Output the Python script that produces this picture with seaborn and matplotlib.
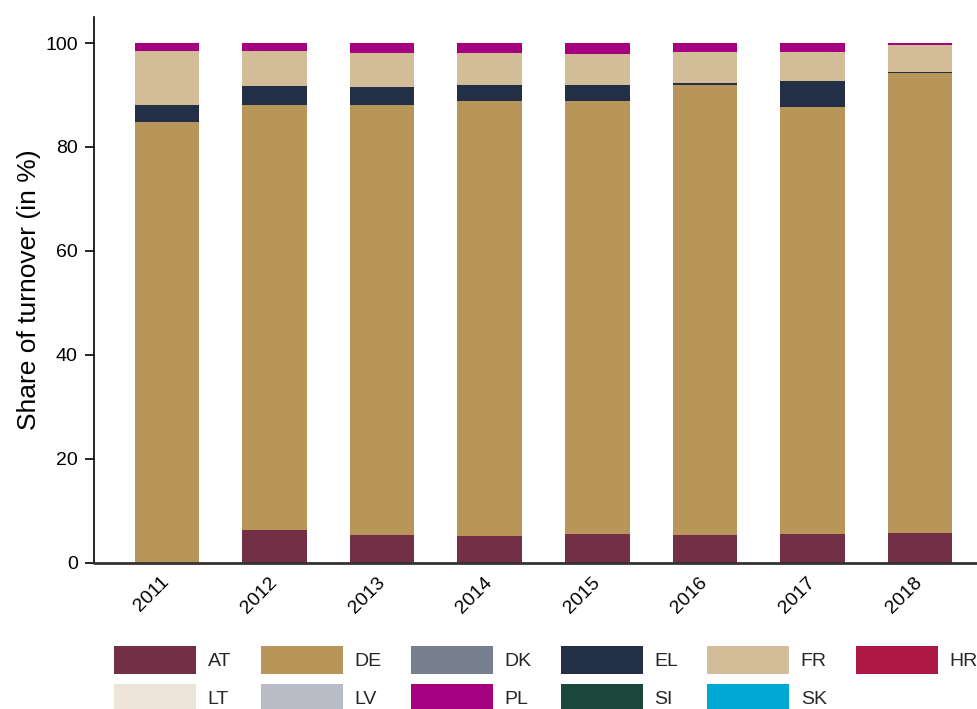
import numpy as np
import pandas as pd
import matplotlib
matplotlib.use("Agg")
import matplotlib.pyplot as plt
from matplotlib.patches import Patch
import seaborn as sns

# Datos (participacion en %)
years = ['2011', '2012', '2013', '2014', '2015', '2016', '2017', '2018']
countries = ['AT', 'DE', 'DK', 'EL', 'FR', 'HR', 'LT', 'LV', 'PL', 'SI', 'SK']

at = [0.0, 6.3, 5.4, 5.1, 5.5, 5.3, 5.6, 5.7]
de = [84.9, 81.7, 82.7, 83.7, 83.3, 86.6, 82.0, 88.5]
dk = [0, 0, 0, 0, 0, 0, 0, 0]
el = [3.1, 3.7, 3.4, 3.1, 3.1, 0.4, 5.1, 0.2]
fr = [10.5, 6.7, 6.6, 6.2, 6.0, 5.9, 5.6, 5.2]
hr = [0, 0, 0, 0, 0, 0, 0, 0]
lt = [0, 0, 0, 0, 0, 0, 0, 0]
lv = [0, 0, 0, 0, 0, 0, 0, 0]
pl = [1.5, 1.6, 1.9, 1.9, 2.1, 1.8, 1.7, 0.4]
si = [0, 0, 0, 0, 0, 0, 0, 0]
sk = [0, 0, 0, 0, 0, 0, 0, 0]

colors = {
    'AT': '#722F45', 'DE': '#B89558', 'DK': '#78808F', 'EL': '#222F47',
    'FR': '#D3BD98', 'HR': '#AE1A45', 'LT': '#EEE5DA', 'LV': '#B9BCC6',
    'PL': '#A5007F', 'SI': '#1A463C', 'SK': '#00A9D4',
}

sns.set_theme(style="white")
plt.rcParams['font.family'] = ['Liberation Sans', 'DejaVu Sans']

df = pd.DataFrame({'AT': at, 'DE': de, 'DK': dk, 'EL': el, 'FR': fr, 'HR': hr,
                   'LT': lt, 'LV': lv, 'PL': pl, 'SI': si, 'SK': sk}, index=years)
acum = df[countries].cumsum(axis=1)
acum['Year'] = years

fig = plt.figure(figsize=(9.77, 7.09), dpi=100)
ax = fig.add_axes([0.096, 0.206, 0.904, 0.77])

# Barras apiladas: se dibuja el acumulado de arriba hacia abajo
for c in reversed(countries):
    sns.barplot(data=acum, x='Year', y=c, color=colors[c], width=0.6,
                errorbar=None, saturation=1, linewidth=0, ax=ax)

ax.set_xlim(-0.68, 7.53)
ax.set_ylim(0, 105)
ax.set_yticks([0, 20, 40, 60, 80, 100])
ax.set_xlabel('')
ax.set_ylabel('Share of turnover (in %)', fontsize=19, color='black', labelpad=3)

sns.despine(ax=ax, top=True, right=True, bottom=True)
ax.spines['left'].set_color('black')
ax.spines['left'].set_linewidth(1.2)
ax.axhline(0, color='#333333', lw=2, zorder=5, clip_on=False)

ax.tick_params(axis='y', left=True, length=6.5, width=1.2, color='black',
               labelsize=14, labelcolor='black', pad=5)
ax.tick_params(axis='x', bottom=False, labelsize=14, labelcolor='black', pad=6)
plt.setp(ax.get_xticklabels(), rotation=45, ha='right', va='center',
         rotation_mode='anchor')

# Leyenda en filas (orden por fila)
order = ['AT', 'LT', 'DE', 'LV', 'DK', 'PL', 'EL', 'SI', 'FR', 'SK', 'HR']
handles = [Patch(facecolor=colors[c], edgecolor='none', label=c) for c in order]
fig.legend(handles=handles, loc='upper left', bbox_to_anchor=(0.117, 0.089),
           ncol=6, frameon=False, fontsize=14, handlelength=4.22,
           handleheight=1.84, handletextpad=0.58, columnspacing=1.52,
           labelspacing=0.53, borderpad=0, borderaxespad=0)

fig.savefig('out.png', dpi=100)
